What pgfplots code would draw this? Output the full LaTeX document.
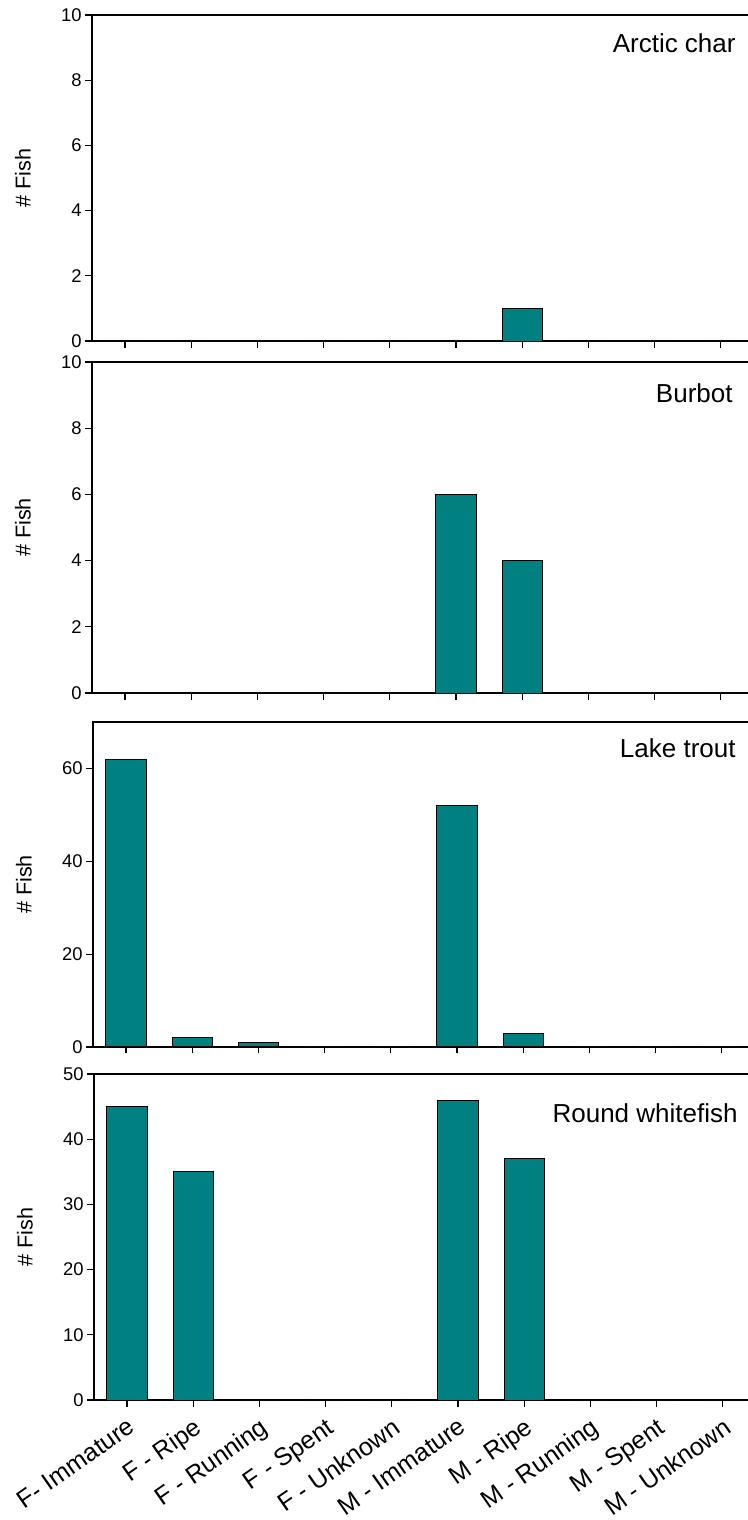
\documentclass[border=0pt]{standalone}
\usepackage{fontspec}
\setmainfont{Liberation Sans}
\usepackage{pgfplots}
\usepackage{pgfplotstable}
\pgfplotsset{compat=1.18}
\definecolor{fishteal}{RGB}{0,128,128}

\pgfplotstableread{
x y
0 0
1 0
2 0
3 0
4 0
5 0
6 1
7 0
8 0
9 0
}\arctic
\pgfplotstableread{
x y
0 0
1 0
2 0
3 0
4 0
5 6
6 4
7 0
8 0
9 0
}\burbot
\pgfplotstableread{
x y
0 62
1 2
2 1
3 0
4 0
5 52
6 3
7 0
8 0
9 0
}\laketrout
\pgfplotstableread{
x y
0 45
1 35
2 0
3 0
4 0
5 46
6 37
7 0
8 0
9 0
}\whitefish

\pgfplotsset{
  panel/.style={
    scale only axis, width=331pt,
    xmin=-0.5, xmax=9.5, ymin=0,
    xtick={0,...,9}, xticklabels={},
    tick align=outside, xtick pos=left, ytick pos=left,
    major tick length=3.25pt,
    axis line style={line width=0.7pt},
    every tick/.style={line width=0.6pt, black},
    yticklabel style={font=\fontsize{9.2}{10}\selectfont, inner sep=1.8pt},
    every axis y label/.style={at={(axis description cs:0,0.5)}, xshift=-34.5pt, rotate=90, anchor=center, font=\fontsize{10.8}{12}\selectfont},
    ylabel={\# Fish},
    ybar, bar width=0.61,
    /pgf/number format/assume math mode=true,
  },
  fishbar/.style={fill=fishteal, draw=black, line width=0.5pt},
}
\tikzset{species/.style={anchor=east, inner sep=0pt, font=\fontsize{13}{15}\selectfont}}

\begin{document}
\begin{tikzpicture}
\begin{axis}[panel, at={(46pt,-7.5pt)}, anchor=north west, height=163pt,
  ymax=10, ytick={0,2,...,10}]
\addplot[fishbar] table[x=x,y=y]{\arctic};
\node[species, xshift=-9pt, yshift=-14pt] at (rel axis cs:1,1) {Arctic char};
\end{axis}

\begin{axis}[panel, at={(46pt,-181pt)}, anchor=north west, height=165.5pt,
  ymax=10, ytick={0,2,...,10}]
\addplot[fishbar] table[x=x,y=y]{\burbot};
\node[species, xshift=-10.5pt, yshift=-15.5pt] at (rel axis cs:1,1) {Burbot};
\end{axis}

\begin{axis}[panel, at={(46.5pt,-361pt)}, anchor=north west, height=162.5pt,
  ymax=70, ytick={0,20,40,60}]
\addplot[fishbar] table[x=x,y=y]{\laketrout};
\node[species, xshift=-9.5pt, yshift=-13pt] at (rel axis cs:1,1) {Lake trout};
\end{axis}

\begin{axis}[panel, at={(47pt,-537pt)}, anchor=north west, height=163pt,
  ymax=50, ytick={0,10,...,50},
  xticklabels={F- Immature, F - Ripe, F - Running, F - Spent, F - Unknown, M - Immature, M - Ripe, M - Running, M - Spent, M - Unknown},
  xticklabel style={yshift=-3.5pt, rotate=35, anchor=north east, inner sep=1pt, font=\fontsize{12.5}{13}\selectfont}]
\addplot[fishbar] table[x=x,y=y]{\whitefish};
\node[species, xshift=-9pt, yshift=-19.5pt] at (rel axis cs:1,1) {Round whitefish};
\end{axis}

\pgfresetboundingbox
\useasboundingbox (0,0) rectangle (374pt,-760pt);
\end{tikzpicture}
\end{document}
